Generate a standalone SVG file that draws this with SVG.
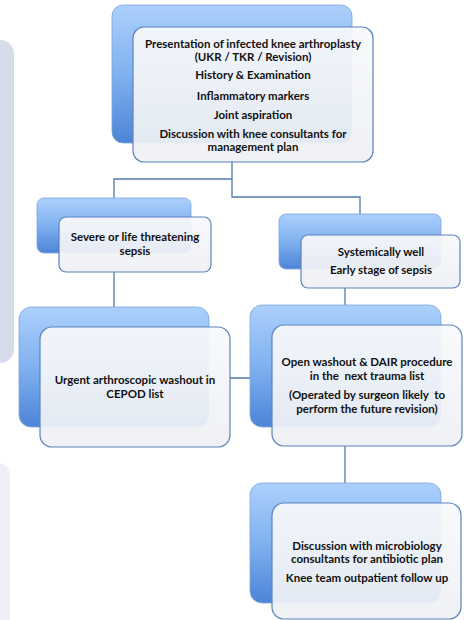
<svg xmlns="http://www.w3.org/2000/svg" width="469" height="620" viewBox="0 0 469 620">
<defs>
<linearGradient id="blue" x1="0" y1="0" x2="0" y2="1">
<stop offset="0" stop-color="#acd0fb"/>
<stop offset="0.5" stop-color="#80b1f0"/>
<stop offset="1" stop-color="#4c84d6"/>
</linearGradient>
<linearGradient id="front" x1="0" y1="0" x2="0" y2="1">
<stop offset="0" stop-color="#f8f9fb"/>
<stop offset="1" stop-color="#eef0f4"/>
</linearGradient>
<style>
.back{fill:url(#blue);stroke:#7ea6dc;stroke-width:0.8}
.front{fill:url(#front);fill-opacity:0.93;stroke:#5b84bd;stroke-width:1.2}
.conn{fill:none;stroke:#4f79ad;stroke-width:1.3}
text{font-family:Lato,"Liberation Sans",sans-serif;font-weight:bold;font-size:11.5px;fill:#111;text-anchor:middle;white-space:pre}
</style>
</defs>
<rect x="-30" y="40" width="44" height="323" rx="14" fill="#d6dcea"/>
<rect x="-30" y="463" width="40" height="200" rx="12" fill="#eef0f6"/>
<g id="connectors">
<path class="conn" d="M232,162 V179 H114 V198"/>
<path class="conn" d="M232,179 V197 H360 V215"/>
<path class="conn" d="M114,272 V307"/>
<path class="conn" d="M345,288 V305"/>
<path class="conn" d="M230,378 H272"/>
<path class="conn" d="M345,446 V483"/>
</g>
<g id="n1">
<rect class="back" x="112" y="5" width="240" height="138" rx="11"/>
<rect class="front" x="133" y="27" width="240" height="135" rx="11"/>
<text x="253" y="47.5">Presentation of infected knee arthroplasty</text>
<text x="253" y="60.5">(UKR / TKR / Revision)</text>
<text x="253" y="79">History &amp; Examination</text>
<text x="253" y="100">Inflammatory markers</text>
<text x="253" y="119">Joint aspiration</text>
<text x="253" y="137.5">Discussion with knee consultants for</text>
<text x="253" y="150.5">management plan</text>
</g>
<g id="n2">
<rect class="back" x="37" y="198" width="154" height="55" rx="7"/>
<rect class="front" x="59" y="217" width="152" height="55" rx="7"/>
<text x="135" y="240.5">Severe or life threatening</text>
<text x="135" y="254.5">sepsis</text>
</g>
<g id="n3">
<rect class="back" x="279" y="214" width="162" height="55" rx="7"/>
<rect class="front" x="301" y="235" width="159" height="53" rx="7"/>
<text x="381" y="256">Systemically well</text>
<text x="381" y="274">Early stage of sepsis</text>
</g>
<g id="n4">
<rect class="back" x="19" y="307" width="190" height="120" rx="12"/>
<rect class="front" x="40" y="327" width="190" height="120" rx="12"/>
<text x="135" y="383.5">Urgent arthroscopic washout in</text>
<text x="135" y="397.5">CEPOD list</text>
</g>
<g id="n5">
<rect class="back" x="250" y="305" width="191" height="122" rx="12"/>
<rect class="front" x="272" y="325" width="190" height="121" rx="12"/>
<text x="367" y="365.5">Open washout &amp; DAIR procedure</text>
<text x="367" y="379.5">in the  next trauma list</text>
<text x="367" y="398.5">(Operated by surgeon likely  to</text>
<text x="367" y="412.5">perform the future revision)</text>
</g>
<g id="n6">
<rect class="back" x="250" y="483" width="191" height="120" rx="12"/>
<rect class="front" x="272" y="503" width="189" height="116" rx="12"/>
<text x="367" y="550">Discussion with microbiology</text>
<text x="367" y="563">consultants for antibiotic plan</text>
<text x="367" y="582">Knee team outpatient follow up</text>
</g>
</svg>
